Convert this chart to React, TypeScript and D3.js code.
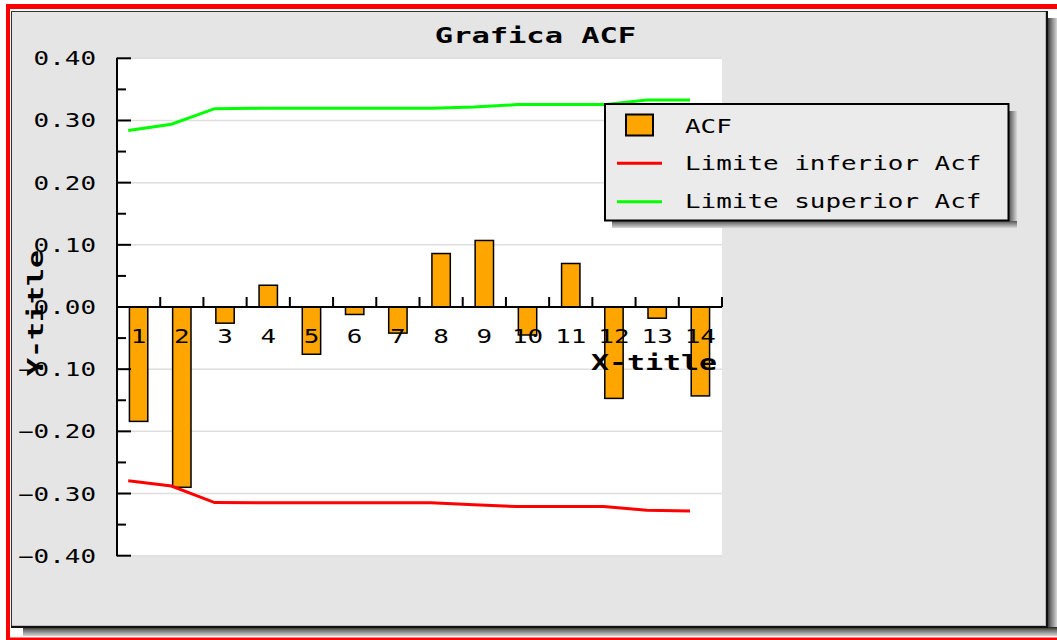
import React from 'react';
import * as d3 from 'd3';

const lags = [1, 2, 3, 4, 5, 6, 7, 8, 9, 10, 11, 12, 13, 14];
const acf = [-0.184, -0.29, -0.026, 0.035, -0.076, -0.012, -0.042, 0.086, 0.107, -0.045, 0.07, -0.147, -0.018, -0.143];
const lowerLimit = [-0.2795, -0.288, -0.3146, -0.315, -0.315, -0.315, -0.315, -0.315, -0.318, -0.321, -0.321, -0.321, -0.327, -0.328];
const upperLimit = [0.284, 0.294, 0.319, 0.3195, 0.3195, 0.3195, 0.3195, 0.3195, 0.3216, 0.3255, 0.3255, 0.3255, 0.333, 0.333];
const yTicks = [-0.4, -0.3, -0.2, -0.1, 0, 0.1, 0.2, 0.3, 0.4];
const yMinorTicks = [-0.35, -0.25, -0.15, -0.05, 0.05, 0.15, 0.25, 0.35];
const seriesNames = ['ACF', 'Limite inferior Acf', 'Limite superior Acf'];
const chartTitle = 'Grafica ACF';
const xTitle = 'X-title';
const yTitle = 'Y-title';

const MONO = "'DejaVu Sans Mono', 'Liberation Mono', monospace";

function MText(props: { x: number; y: number; text: string; adv: number; size: number; bold?: boolean; anchor?: string; transform?: string; fill?: string }) {
  const { x, y, text, adv, size, bold, anchor, transform, fill } = props;
  return (
    <text
      x={x}
      y={y}
      transform={transform}
      textAnchor={anchor || 'start'}
      fontFamily={MONO}
      fontSize={size}
      fontWeight={bold ? 'bold' : 'normal'}
      textLength={text.length * adv}
      lengthAdjust="spacingAndGlyphs"
      fill={fill || '#000'}
    >
      {text}
    </text>
  );
}

export default function App() {
  const W = 1057;
  const H = 640;
  const plotL = 117;
  const plotR = 722;
  const plotT = 58.3;
  const plotB = 555.7;

  const x = d3.scaleBand<number>().domain(lags).range([plotL, plotR]).paddingInner(0).paddingOuter(0);
  const y = d3.scaleLinear().domain([-0.4, 0.4]).range([plotB, plotT]);
  const bw = x.bandwidth();
  const barW = bw * 0.425;
  const lineX = (lag: number) => (x(lag) as number) + bw * 0.26;

  const line = d3
    .line<number>()
    .x((_, i) => lineX(lags[i]))
    .y((d) => y(d));

  const y0 = y(0);
  const fmt = d3.format('.2f');
  const ADV = 15.6;
  const FS = 19;

  return (
    <div style={{ position: 'absolute', left: 0, top: 0 }}>
      <svg width={W} height={H} style={{ display: 'block' }}>
        <defs>
          <linearGradient id="shR" x1="0" x2="1" y1="0" y2="0">
            <stop offset="0" stopColor="#222" />
            <stop offset="0.3" stopColor="#666" />
            <stop offset="1" stopColor="#d6d6d6" />
          </linearGradient>
          <linearGradient id="shB" x1="0" x2="0" y1="0" y2="1">
            <stop offset="0" stopColor="#222" />
            <stop offset="0.3" stopColor="#666" />
            <stop offset="1" stopColor="#d6d6d6" />
          </linearGradient>
          <linearGradient id="lgR" x1="0" x2="1" y1="0" y2="0">
            <stop offset="0" stopColor="#555" />
            <stop offset="1" stopColor="#d8d8d8" />
          </linearGradient>
          <linearGradient id="lgB" x1="0" x2="0" y1="0" y2="1">
            <stop offset="0" stopColor="#555" />
            <stop offset="1" stopColor="#d8d8d8" />
          </linearGradient>
        </defs>
        <rect x={0} y={0} width={W} height={H} fill="#fff" />
        {/* red outer border */}
        <rect x={6} y={4} width={W - 6} height={5} fill="#ff0000" />
        <rect x={6} y={4} width={4} height={H - 4} fill="#ff0000" />
        <rect x={6} y={637.5} width={W - 6} height={2.5} fill="#ff0000" />

        {/* frame shadow */}
        <rect x={1047} y={18} width={10} height={618} fill="url(#shR)" />
        <rect x={23} y={627} width={1034} height={9} fill="url(#shB)" />
        {/* frame */}
        <rect x={11} y={11} width={1036} height={616} fill="#e5e5e5" />
        <rect x={11.5} y={11.5} width={1035} height={615} fill="none" stroke="#333" strokeWidth={1} />
        <line x1={1045.5} y1={12} x2={1045.5} y2={626} stroke="#bdbdbd" strokeWidth={1} />
        <line x1={12} y1={625.5} x2={1045} y2={625.5} stroke="#bdbdbd" strokeWidth={1} />
        <line x1={1047} y1={11} x2={1047} y2={628} stroke="#111" strokeWidth={2} />
        <line x1={11} y1={627} x2={1048} y2={627} stroke="#111" strokeWidth={2} />

        {/* plot area */}
        <rect x={plotL} y={plotT} width={plotR - plotL} height={plotB - plotT} fill="#fff" />
        {yTicks.map((t) => (
          <line key={'g' + t} x1={plotL} x2={plotR} y1={y(t)} y2={y(t)} stroke="#dedede" strokeWidth={1.5} />
        ))}

        {/* bars */}
        {lags.map((lag, i) => {
          const cx = (x(lag) as number) + bw / 2;
          const yv = y(acf[i]);
          return (
            <rect
              key={'b' + lag}
              x={cx - barW / 2}
              y={Math.min(yv, y0)}
              width={barW}
              height={Math.abs(yv - y0)}
              fill="#ffa500"
              stroke="#000"
              strokeWidth={1.5}
            />
          );
        })}

        {/* limit lines */}
        <path d={line(lowerLimit) || ''} fill="none" stroke="#ff0000" strokeWidth={3} />
        <path d={line(upperLimit) || ''} fill="none" stroke="#00ff00" strokeWidth={3} />

        {/* y axis */}
        <line x1={plotL} x2={plotL} y1={plotT - 0.5} y2={plotB + 0.5} stroke="#000" strokeWidth={2} />
        {yTicks.map((t) => (
          <line key={'yt' + t} x1={plotL} x2={plotL + 14} y1={y(t)} y2={y(t)} stroke="#000" strokeWidth={2} />
        ))}
        {yMinorTicks.map((t) => (
          <line key={'ym' + t} x1={plotL} x2={plotL + 9} y1={y(t)} y2={y(t)} stroke="#000" strokeWidth={2} />
        ))}
        {yTicks.map((t) => {
          const s = fmt(t).replace('-', '\u2212');
          return <MText key={'yl' + t} x={96} y={y(t) + 7} text={s} adv={ADV} size={FS} anchor="end" />;
        })}

        {/* x axis */}
        <line x1={plotL} x2={plotR} y1={y0} y2={y0} stroke="#000" strokeWidth={2} />
        {lags.map((lag) => {
          const tx = (x(lag) as number) + bw;
          return <line key={'xt' + lag} x1={tx} x2={tx} y1={y0} y2={y0 - 10} stroke="#000" strokeWidth={2} />;
        })}
        {lags.map((lag) => {
          const cx = (x(lag) as number) + bw / 2;
          const s = String(lag);
          return <MText key={'xl' + lag} x={cx} y={y0 + 35.5} text={s} adv={ADV} size={FS} anchor="middle" />;
        })}

        {/* axis titles */}
        <MText x={717} y={369.5} text={xTitle} adv={18} size={21} bold anchor="end" />
        <MText x={0} y={0} transform="translate(43,313) rotate(-90)" text={yTitle} adv={18} size={21} bold anchor="middle" />

        {/* title */}
        <MText x={535.5} y={43.3} text={chartTitle} adv={18.3} size={22} bold anchor="middle" />

        {/* legend */}
        <rect x={1009} y={111} width={8} height={117} fill="url(#lgR)" />
        <rect x={612} y={221} width={405} height={7} fill="url(#lgB)" />
        <rect x={605} y={104} width={403.5} height={116.5} fill="#ebebeb" stroke="#000" strokeWidth={2} />
        <rect x={626} y={114.5} width={27} height={21} fill="#ffa500" stroke="#000" strokeWidth={2} />
        <line x1={617} x2={662} y1={163.3} y2={163.3} stroke="#ff0000" strokeWidth={3} />
        <line x1={617} x2={662} y1={201.7} y2={201.7} stroke="#00ff00" strokeWidth={3} />
        <MText x={685} y={132.5} text={seriesNames[0]} adv={ADV} size={FS} />
        <MText x={685} y={170} text={seriesNames[1]} adv={ADV} size={FS} />
        <MText x={685} y={208} text={seriesNames[2]} adv={ADV} size={FS} />
      </svg>
    </div>
  );
}
